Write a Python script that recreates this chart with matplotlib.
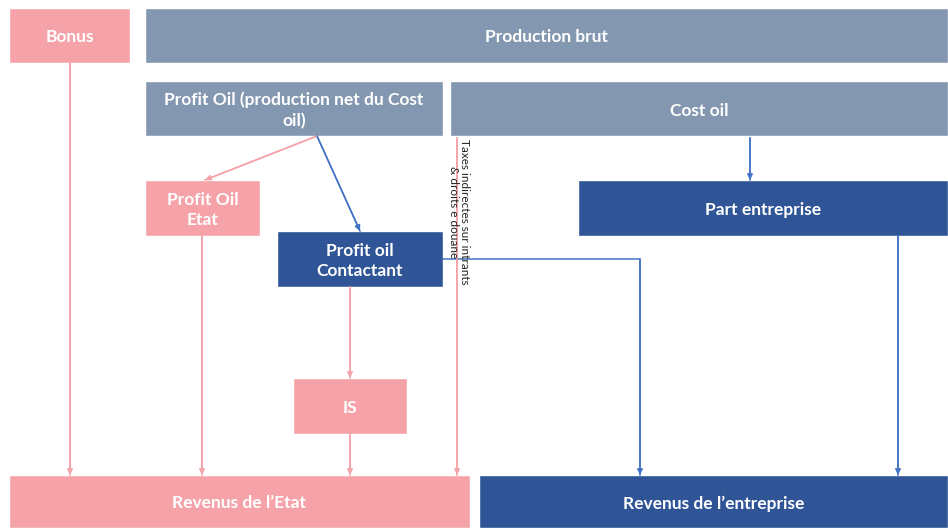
import matplotlib.pyplot as plt
from matplotlib.patches import Rectangle

plt.rcParams['font.family'] = ['Lato', 'DejaVu Sans']

# couleurs
pink = '#F5A3A9'
grey = '#8497B0'
blue = '#2F5597'
line_blue = '#4472C4'

# textes des cases
labels = ['Bonus', 'Production brut', 'Profit Oil (production net du Cost\noil)', 'Cost oil',
          'Profit Oil\nEtat', 'Profit oil\nContactant', 'Part entreprise', 'IS',
          'Revenus de l\u2019Etat', 'Revenus de l\u2019entreprise']
side_label = 'Taxes indirectes sur intrants\n& droits e douane'

# geometrie (pixels: x0, y0, x1, y1)
boxes = [(9, 8, 130, 63), (145, 8, 948, 63), (145, 81, 443, 136), (450, 81, 948, 136),
         (145, 180, 260, 236), (277, 231, 443, 287), (578, 180, 948, 236), (293, 378, 407, 434),
         (9, 475, 470, 528), (479, 475, 948, 528)]
colors = [pink, grey, grey, grey, pink, blue, blue, pink, pink, blue]

fig = plt.figure(figsize=(9.48, 5.28), dpi=100)
ax = fig.add_axes([0, 0, 1, 1])
ax.set_xlim(0, 948)
ax.set_ylim(528, 0)
ax.axis('off')

for (x0, y0, x1, y1), c, t in zip(boxes, colors, labels):
    ax.add_patch(Rectangle((x0, y0), x1 - x0, y1 - y0, fc=c, ec='white', lw=1))
    ax.text((x0 + x1) / 2, (y0 + y1) / 2 + 2, t, ha='center', va='center', color='white',
            fontsize=12.5, fontweight='bold', linespacing=1.35)


def arrow(pts, col):
    xs = [p[0] for p in pts]
    ys = [p[1] for p in pts]
    ax.plot(xs, ys, color=col, lw=1.1)
    ax.annotate('', xy=pts[-1], xytext=pts[-2],
                arrowprops=dict(arrowstyle='-|>', color=col, lw=1.1, mutation_scale=8,
                                shrinkA=0, shrinkB=0))


arrow([(70, 63), (70, 475)], pink)
arrow([(202, 236), (202, 475)], pink)
arrow([(317, 136), (205, 180)], pink)
arrow([(317, 136), (360, 231)], line_blue)
arrow([(350, 287), (350, 378)], pink)
arrow([(350, 434), (350, 475)], pink)
arrow([(457, 138), (457, 475)], pink)
arrow([(750, 138), (750, 180)], line_blue)
arrow([(443, 259), (640, 259), (640, 475)], line_blue)
arrow([(898, 236), (898, 475)], line_blue)

ax.text(459, 139, side_label, rotation=270, ha='center', va='top', fontsize=8.5,
        color='#222222', linespacing=1.1)

plt.savefig('out.png', dpi=100)
